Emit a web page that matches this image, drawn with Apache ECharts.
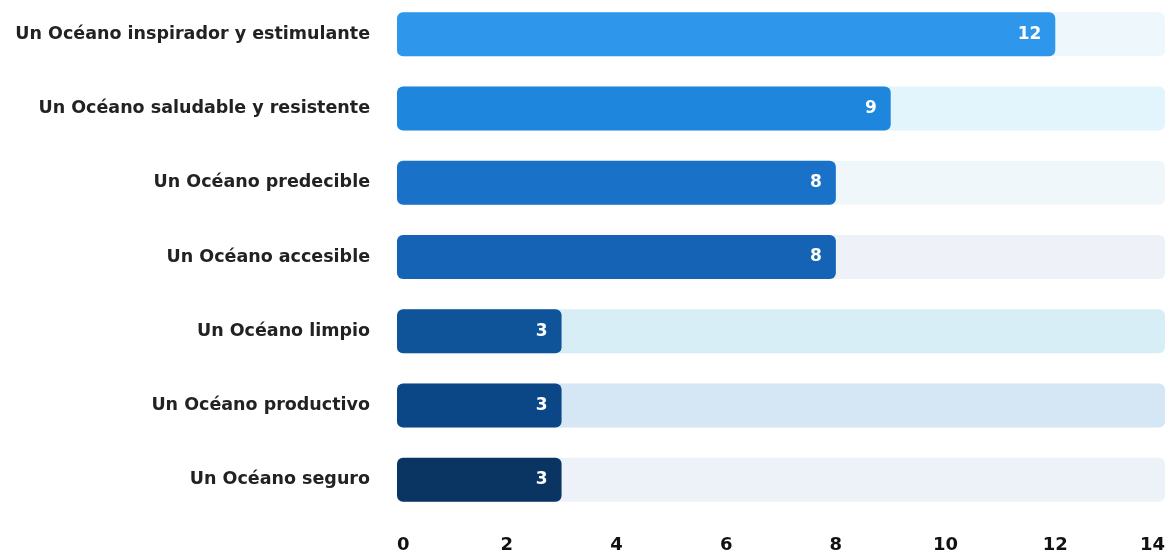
<!DOCTYPE html>
<html>
<head>
<meta charset="utf-8">
<script src="https://cdn.jsdelivr.net/npm/echarts@6/dist/echarts.min.js"></script>
<style>html,body{margin:0;padding:0;background:#fff;}#c{width:1169px;height:558px;}</style>
</head>
<body>
<div id="c"></div>
<script>
var categories = [
  "Un Océano inspirador y estimulante",
  "Un Océano saludable y resistente",
  "Un Océano predecible",
  "Un Océano accesible",
  "Un Océano limpio",
  "Un Océano productivo",
  "Un Océano seguro"
];
var values = [12, 9, 8, 8, 3, 3, 3];
var trackMax = [14, 14, 14, 14, 14, 14, 14];
var barColors = ["#2e97eb", "#1f86dd", "#1a72c8", "#1563b4", "#0f5399", "#0b4787", "#0a3563"];
var trackColors = ["#eef8fc", "#e2f5fc", "#f0f7fb", "#eef2f8", "#d7eef6", "#d5e6f4", "#edf1f8"];
var xTicks = [0, 2, 4, 6, 8, 10, 12, 14];

var chart = echarts.init(document.getElementById('c'), null, {renderer: 'canvas'});
var font = '"DejaVu Sans"';
chart.setOption({
  animation: false,
  grid: {left: 397, right: 4, top: -3, height: 520, containLabel: false, outerBoundsMode: 'none'},
  xAxis: {
    type: 'value', min: xTicks[0], max: xTicks[xTicks.length - 1], interval: 2,
    splitLine: {show: false}, axisLine: {show: false}, axisTick: {show: false},
    axisLabel: {
      color: '#111', fontSize: 18, fontWeight: 'bold', fontFamily: font, margin: 19,
      alignMinLabel: 'left', alignMaxLabel: 'right'
    }
  },
  yAxis: {
    type: 'category', data: categories, inverse: true,
    axisLine: {show: false}, axisTick: {show: false}, splitLine: {show: false},
    axisLabel: {color: '#222', fontSize: 17.5, fontWeight: 'bold', fontFamily: font, margin: 27}
  },
  series: [
    {
      type: 'bar', barWidth: 44, z: 1, silent: true,
      data: trackMax.map(function (v, i) {
        return {value: v, itemStyle: {color: trackColors[i], borderRadius: 6}};
      })
    },
    {
      type: 'bar', barWidth: 44, barGap: '-100%', z: 2,
      data: values.map(function (v, i) {
        return {value: v, itemStyle: {color: barColors[i], borderRadius: 6}};
      }),
      label: {
        show: true, position: 'insideRight', distance: 14,
        color: '#fff', fontSize: 17, fontWeight: 'bold', fontFamily: font
      }
    }
  ]
});
</script>
</body>
</html>
